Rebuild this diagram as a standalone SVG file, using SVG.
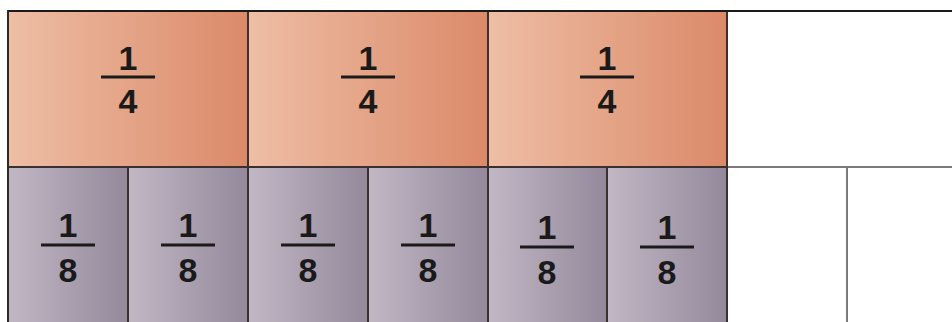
<svg xmlns="http://www.w3.org/2000/svg" width="952" height="322" viewBox="0 0 952 322">
<defs>
<linearGradient id="gQ" x1="0" y1="0" x2="1" y2="0">
<stop offset="0" stop-color="#eebea5"/>
<stop offset="1" stop-color="#db8a69"/>
</linearGradient>
<linearGradient id="gE" x1="0" y1="0" x2="1" y2="0">
<stop offset="0" stop-color="#c2b7c4"/>
<stop offset="1" stop-color="#94899b"/>
</linearGradient>
</defs>
<style>
.q{fill:url(#gQ);stroke:#3a3030;stroke-width:2}
.e{fill:url(#gE);stroke:#3a3030;stroke-width:2}
.n{font-family:"Liberation Sans",Arial,sans-serif;font-weight:bold;font-size:34px;fill:#1a1a1a;text-anchor:middle}
.bar{stroke:#1a1a1a;stroke-width:3}
.blank{stroke:#7a7a7a;stroke-width:2;fill:none}
</style>
<rect width="952" height="322" fill="#ffffff"/>
<g id="blank-area">
<line class="blank" x1="727" y1="167" x2="952" y2="167"/>
<line class="blank" x1="847" y1="167" x2="847" y2="322"/>
</g>
<g id="q1"><rect class="q" x="8" y="11" width="240" height="156"/><text class="n" x="128" y="70">1</text><line class="bar" x1="101" y1="77" x2="155" y2="77"/><text class="n" x="128" y="113">4</text></g>
<g id="q2"><rect class="q" x="248" y="11" width="240" height="156"/><text class="n" x="368" y="70">1</text><line class="bar" x1="341" y1="77" x2="395" y2="77"/><text class="n" x="368" y="113">4</text></g>
<g id="q3"><rect class="q" x="488" y="11" width="239" height="156"/><text class="n" x="607" y="70">1</text><line class="bar" x1="580" y1="77" x2="634" y2="77"/><text class="n" x="607" y="113">4</text></g>
<g id="e1"><rect class="e" x="8" y="167" width="120" height="160"/><text class="n" x="68" y="237">1</text><line class="bar" x1="41" y1="245" x2="95" y2="245"/><text class="n" x="68" y="282">8</text></g>
<g id="e2"><rect class="e" x="128" y="167" width="120" height="160"/><text class="n" x="188" y="237">1</text><line class="bar" x1="161" y1="245" x2="215" y2="245"/><text class="n" x="188" y="282">8</text></g>
<g id="e3"><rect class="e" x="248" y="167" width="120" height="160"/><text class="n" x="308" y="237">1</text><line class="bar" x1="281" y1="245" x2="335" y2="245"/><text class="n" x="308" y="282">8</text></g>
<g id="e4"><rect class="e" x="368" y="167" width="120" height="160"/><text class="n" x="428" y="237">1</text><line class="bar" x1="401" y1="245" x2="455" y2="245"/><text class="n" x="428" y="282">8</text></g>
<g id="e5"><rect class="e" x="488" y="167" width="119" height="160"/><text class="n" x="547" y="239">1</text><line class="bar" x1="520" y1="247" x2="574" y2="247"/><text class="n" x="547" y="284">8</text></g>
<g id="e6"><rect class="e" x="607" y="167" width="120" height="160"/><text class="n" x="667" y="239">1</text><line class="bar" x1="640" y1="247" x2="694" y2="247"/><text class="n" x="667" y="284">8</text></g>
<g id="frame">
<line x1="8" y1="11" x2="952" y2="11" stroke="#1a1a1a" stroke-width="2"/>
<line x1="8" y1="11" x2="8" y2="322" stroke="#2a2a2a" stroke-width="2"/>
</g>
</svg>
